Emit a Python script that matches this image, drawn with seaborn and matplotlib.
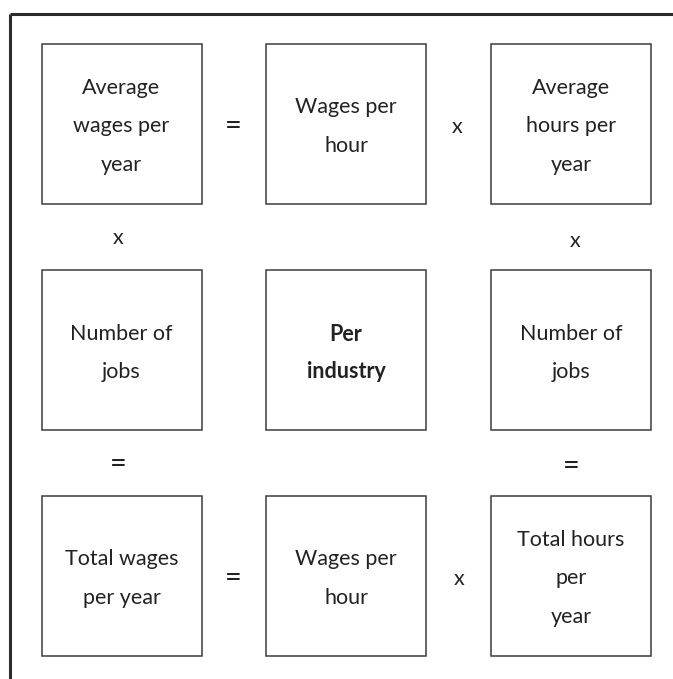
import seaborn as sns
import matplotlib.pyplot as plt
from matplotlib.patches import Rectangle

# box labels, row by row (left, middle, right)
box_labels = [
    ["Average\nwages per\nyear", "Wages per\nhour", "Average\nhours per\nyear"],
    ["Number of\njobs", "Per\nindustry", "Number of\njobs"],
    ["Total wages\nper year", "Wages per\nhour", "Total hours\nper\nyear"],
]
bold_boxes = [(1, 1)]

# operators between boxes: (symbol, x, y) in pixel space
operators = [
    ("=", 233, 126), ("x", 457, 127),
    ("x", 118, 238), ("x", 575, 241),
    ("=", 118, 464), ("=", 571, 466),
    ("=", 233, 578), ("x", 459, 579),
]

W, H = 673, 679
col_left = [41.5, 266, 491]
row_top = [43.5, 270, 495.5]
box_w, box_h = 160, 160
line_gap = [38.5, 37.5, 38.5]

sns.set_style("white")
plt.rcParams['font.family'] = ['Lato', 'DejaVu Sans']

fig = plt.figure(figsize=(W / 100, H / 100), dpi=100)
ax = fig.add_axes([0, 0, 1, 1])
ax.set_xlim(0, W)
ax.set_ylim(H, 0)
ax.axis("off")

# outer frame: top and left edges only
ax.plot([10, W], [13.5, 13.5], color="#2b2b2b", lw=2.2, solid_capstyle="butt")
ax.plot([10, 10], [13.5, H], color="#2b2b2b", lw=2.2, solid_capstyle="butt")

for r, row in enumerate(box_labels):
    for c, label in enumerate(row):
        x0, y0 = col_left[c], row_top[r]
        ax.add_patch(Rectangle((x0, y0), box_w, box_h, fill=False,
                               edgecolor="#3c3c3c", lw=1.1))
        lines = label.split("\n")
        gap = line_gap[r]
        n = len(lines)
        cy = y0 + box_h / 2 + 3
        for i, t in enumerate(lines):
            y = cy + (i - (n - 1) / 2) * gap
            ax.text(x0 + box_w / 2, y, t, ha="center", va="center",
                    fontsize=15.5, color="#222222",
                    fontweight="bold" if (r, c) in bold_boxes else "normal")

for sym, x, y in operators:
    ax.text(x, y, sym, ha="center", va="center", color="#222222",
            fontsize=21 if sym == "=" else 15.5)

fig.savefig("out.png", dpi=100)
